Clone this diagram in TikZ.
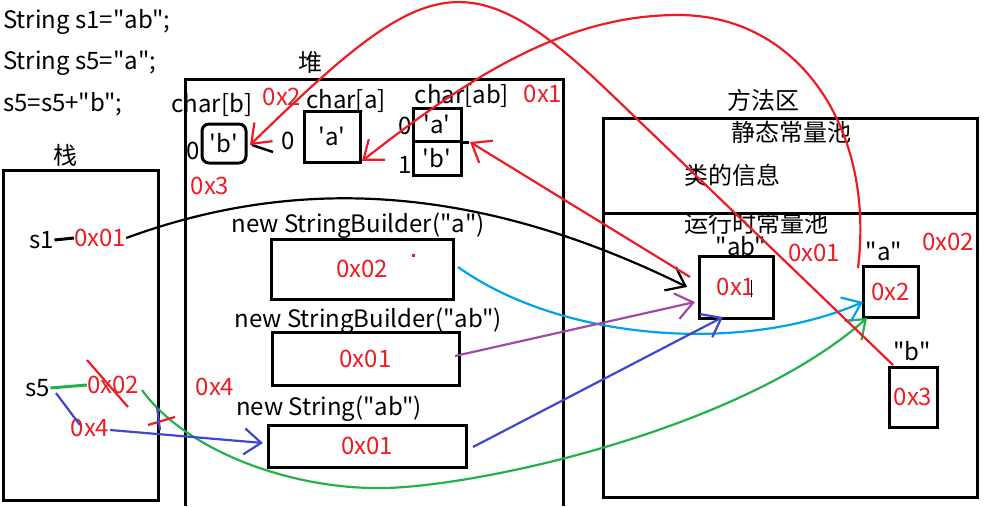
\documentclass[tikz,border=0pt]{standalone}
\usepackage{fontspec}
\setmainfont{Noto Sans CJK SC}[Ligatures=TeXOff]
\usetikzlibrary{arrows.meta}
\definecolor{pred}{HTML}{ED1C24}
\definecolor{pgreen}{HTML}{22B14C}
\definecolor{pcyan}{HTML}{00A2E8}
\definecolor{ppurple}{HTML}{A349A4}
\definecolor{pblue}{HTML}{3F48CC}
\newcommand{\sq}{\textquotesingle}
\begin{document}
\begin{tikzpicture}[x=1pt,y=-1pt,
  txt/.style={inner sep=0pt, font=\fontsize{24}{28}\selectfont},
  addr/.style={txt, text=pred},
  box/.style={draw, line width=3pt, inner sep=0pt, font=\fontsize{24}{28}\selectfont},
  wire/.style={line width=2.2pt},
  tip/.style={-{Straight Barb[length=17pt,width=26pt]}},
]
\useasboundingbox (0,0) rectangle (985,506);

% code
\node[txt, anchor=west] (c1) at (3,22) {String s1="ab";};
\node[txt, anchor=west] (c2) at (3,63) {String s5="a";};
\node[txt, anchor=west] (c3) at (3,104) {s5=s5+"b";};

% stack
\node[txt] (stacklbl) at (65,155) {栈};
\node[box, minimum width=155, minimum height=330] (stack) at (80.5,335) {};
\node[txt] (s1) at (42,240) {s1};
\node[addr] (s1a) at (100,238) {0x01};
\node[txt] (s5) at (38,388) {s5};
\node[addr] (s5a) at (113,385) {0x02};
\node[addr] (s5b) at (90,428) {0x4};

% heap
\node[txt] (heaplbl) at (310,62) {堆};
\draw[line width=3pt] (185,506) -- (185,79) -- (563,79) -- (563,506);
\node[txt] (lcb) at (212,105) {char[b]};
\node[txt] (lca) at (346,101) {char[a]};
\node[txt] (lcab) at (462,96) {char[ab]};
\node[box, rounded corners=7pt, minimum width=44, minimum height=39] (cb) at (224,143.5) {\sq b\sq};
\node[box, minimum width=56, minimum height=51] (ca) at (332,136.5) {\sq a\sq};
\node[box, minimum width=48, minimum height=33] (cab1) at (437,124.5) {\sq a\sq};
\node[box, minimum width=48, minimum height=34] (cab2) at (437,158) {\sq b\sq};
\draw[line width=3pt] (cab1.south east) -- ++(6,0);
\node[txt] (i0b) at (193,151) {0};
\node[txt] (i0a) at (288,141) {0};
\node[txt] (i0ab) at (405,126) {0};
\node[txt] (i1ab) at (405,165) {1};
\node[addr] (h0x2) at (282,97) {0x2};
\node[addr] (h0x3) at (210,186) {0x3};
\node[addr] (h0x1) at (543,94) {0x1};
\node[addr] (h0x4) at (215,387) {0x4};
\draw[line width=2.5pt] (252,145) -- (273,152);

\node[txt] (lsba) at (358,226) {new StringBuilder("a")};
\node[box, minimum width=182, minimum height=60, text=pred] (sba) at (362,269) {0x02};
\fill[pred] (412,254) rectangle (415,257);
\node[txt] (lsbab) at (368,321) {new StringBuilder("ab")};
\node[box, minimum width=187, minimum height=53, text=pred] (sbab) at (365.5,358.5) {0x01};
\node[txt] (lstr) at (329,409) {new String("ab")};
\node[box, minimum width=198, minimum height=42, text=pred] (str) at (367,446) {0x01};

% method area
\node[txt] (mlbl) at (763,100) {方法区};
\node[box, minimum width=374, minimum height=379] (method) at (790,307.5) {};
\draw[line width=3pt] (method.west |- 0,213) -- (method.east |- 0,213);
\node[txt] (static) at (791,132) {静态常量池};
\node[txt] (cls) at (732,175) {类的信息};
\node[txt] (rt) at (756,223) {运行时常量池};
\node[txt] (lab) at (741,246) {"ab"};
\node[box, minimum width=74, minimum height=62, text=pred] (abbox) at (736,287) {0x1};
\draw[line width=1pt] (751,280) -- (751,297);
\node[addr] (m0x01) at (814,253) {0x01};
\node[txt] (la) at (884,251) {"a"};
\node[box, minimum width=55, minimum height=51, text=pred] (abox) at (890.5,291.5) {0x2};
\node[addr] (m0x02) at (948,242) {0x02};
\node[txt] (lb) at (912,351) {"b"};
\node[box, minimum width=48, minimum height=60, text=pred] (bbox) at (913,397) {0x3};

% connector end points
\coordinate (blkend) at (687,287);
\coordinate (rt1) at (470,142);
\coordinate (rs1) at (690,277);
\coordinate (ra0) at (893,365);
\coordinate (ra1) at (610,93);
\coordinate (tipb) at (250,145);
\coordinate (rb0) at (858,268);
\coordinate (rbpk) at (678,15);
\coordinate (tipa) at (362,161);
\coordinate (cyS) at (458,267);
\coordinate (cyE) at (863,302);
\coordinate (puS) at (455,356);
\coordinate (puE) at (695,302);
\coordinate (inS) at (473,447);
\coordinate (inE) at (723,317);
\coordinate (grS) at (142,390);
\coordinate (grM) at (385,488);
\coordinate (grE) at (867,318);
\coordinate (blS) at (56,393);
\coordinate (blE) at (80,425);
\coordinate (blS2) at (110,430);
\coordinate (blE2) at (263,443);

% stack connectors
\draw[line width=3pt] (s1.east) -- (s1a.west);
\draw[wire, tip] (s1a.east) .. controls (290,178) and (470,180) .. (blkend);
\draw[line width=3pt, pgreen] (s5.east) -- (s5a.west);
\draw[wire, pred] (87,360) -- (128,407);
\draw[wire, pgreen, tip] (grS) .. controls (185,450) and (290,490) .. (grM)
   .. controls (480,486) and (740,430) .. (grE);
\draw[wire, pblue] (blS) -- (blE);
\draw[wire, pblue, tip] (blS2) -- (blE2);
\draw[wire, pred] (148,425) -- (175,417);
\draw[wire, pblue] (157,407) -- (160,430);

% heap to method area
\draw[wire, pcyan, tip] (cyS) .. controls (560,340) and (740,355) .. (cyE);
\draw[wire, ppurple, tip] (puS) -- (puE);
\draw[wire, pblue, tip] (inS) -- (inE);

% red references
\draw[wire, pred, tip] (rs1) -- (rt1);
\draw[wire, pred, tip] (ra0) -- (ra1) .. controls (466,-45) and (424,-24) .. (tipb);
\draw[wire, pred, tip] (rb0) .. controls (875,130) and (800,15) .. (rbpk)
   .. controls (560,15) and (462,83) .. (tipa);
\end{tikzpicture}
\end{document}
